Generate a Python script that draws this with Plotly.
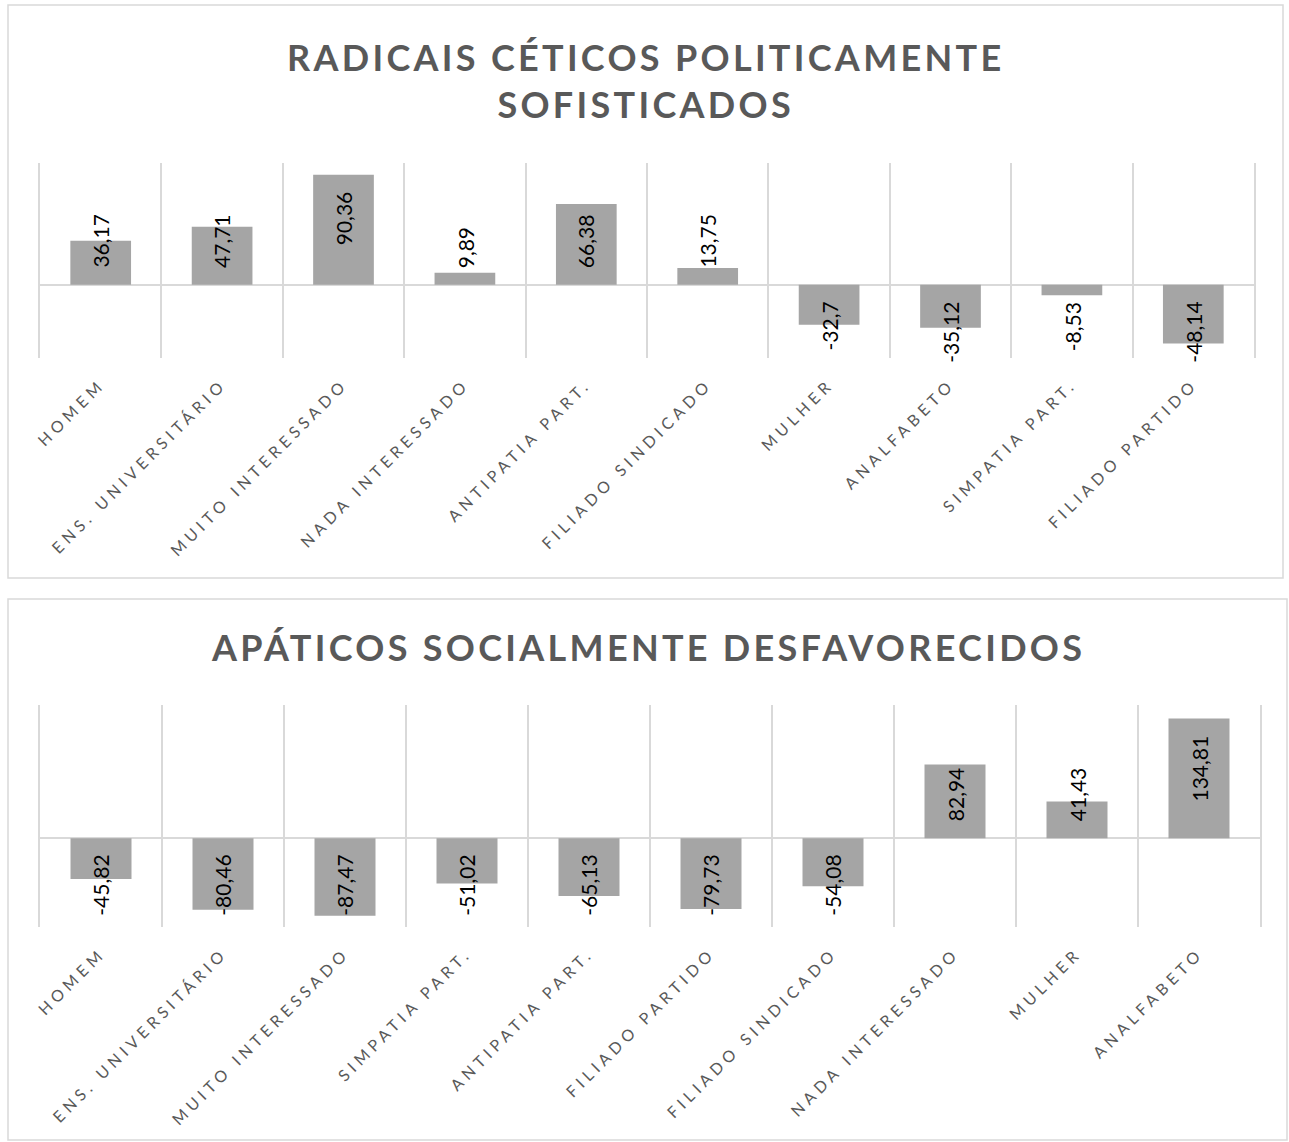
import plotly.graph_objects as go

# ---------------- data ----------------
top_title = "RADICAIS CÉTICOS POLITICAMENTE<br>SOFISTICADOS"
top_categories = ["HOMEM", "ENS. UNIVERSITÁRIO", "MUITO INTERESSADO", "NADA INTERESSADO",
                  "ANTIPATIA PART.", "FILIADO SINDICADO", "MULHER", "ANALFABETO",
                  "SIMPATIA PART.", "FILIADO PARTIDO"]
top_values = [36.17, 47.71, 90.36, 9.89, 66.38, 13.75, -32.7, -35.12, -8.53, -48.14]

bottom_title = "APÁTICOS SOCIALMENTE DESFAVORECIDOS"
bottom_categories = ["HOMEM", "ENS. UNIVERSITÁRIO", "MUITO INTERESSADO", "SIMPATIA PART.",
                     "ANTIPATIA PART.", "FILIADO PARTIDO", "FILIADO SINDICADO",
                     "NADA INTERESSADO", "MULHER", "ANALFABETO"]
bottom_values = [-45.82, -80.46, -87.47, -51.02, -65.13, -79.73, -54.08, 82.94, 41.43, 134.81]

top_range = [-60, 100]
bottom_range = [-100, 150]

# ---------------- style / layout ----------------
W, H = 1289, 1142
BAR = "#a5a5a5"
GRID = "#d9d9d9"
TXT = "#595959"
LABEL_SIZE = 21
PAD = 16
TITLE_SPACING = "3.3px"
TICK_SPACING = "4.6px"


def px(x):
    return x / W


def py(y):
    return 1 - y / H


panels = [
    dict(cats=top_categories, vals=top_values, rng=top_range, title=top_title,
         xdom=[px(40), px(1254)], ydom=[py(358), py(163)], title_y=py(80),
         box=(8, 5, 1283, 578), xa="x", ya="y"),
    dict(cats=bottom_categories, vals=bottom_values, rng=bottom_range, title=bottom_title,
         xdom=[px(40), px(1260)], ydom=[py(927), py(705)], title_y=py(647),
         box=(8, 599, 1287, 1140), xa="x2", ya="y2"),
]


def label_len(s, size):
    w = 0
    for ch in s:
        if ch.isdigit():
            w += 0.58
        elif ch == ",":
            w += 0.24
        elif ch == "-":
            w += 0.37
        else:
            w += 0.5
    return w * size


fig = go.Figure()
annotations = []
shapes = []

for p in panels:
    fig.add_trace(go.Bar(x=p["cats"], y=p["vals"], marker=dict(color=BAR, line=dict(width=0)),
                         xaxis=p["xa"], yaxis=p["ya"], showlegend=False, hoverinfo="skip"))
    plot_h = (p["ydom"][1] - p["ydom"][0]) * H
    ppu = plot_h / (p["rng"][1] - p["rng"][0])
    for c, v in zip(p["cats"], p["vals"]):
        txt = str(v).replace(".", ",")
        L = label_len(txt, LABEL_SIZE)
        fits = abs(v) * ppu >= L + 2 * PAD
        if v >= 0:
            if fits:
                y, anchor, shift = v, "top", -PAD
            else:
                y, anchor, shift = 0, "bottom", PAD
        else:
            if fits:
                y, anchor, shift = v, "bottom", PAD
            else:
                y, anchor, shift = 0, "top", -PAD
        annotations.append(dict(x=c, y=y, xref=p["xa"], yref=p["ya"], text=txt, showarrow=False,
                                textangle=-90, xanchor="center", yanchor=anchor, yshift=shift,
                                font=dict(family="Lato", size=LABEL_SIZE, color="#000000"),
                                borderpad=0))
    span_open = '<span style="letter-spacing:%s">' % TITLE_SPACING
    annotations.append(dict(x=(p["box"][0] + p["box"][2]) / 2 / W, y=p["title_y"], xref="paper",
                            yref="paper", showarrow=False, xanchor="center", yanchor="middle",
                            text=span_open + p["title"].replace("<br>", "</span><br>" + span_open) + "</span>",
                            font=dict(family="Lato", size=36, color=TXT, weight="bold")))
    x0, y0, x1, y1 = p["box"]
    shapes.append(dict(type="rect", xref="paper", yref="paper", x0=px(x0), x1=px(x1),
                       y0=py(y1), y1=py(y0), line=dict(color=GRID, width=1.5), layer="below"))

axis_common_x = dict(type="category", tickson="boundaries", showgrid=True, gridcolor=GRID,
                     gridwidth=1.5, showline=False, zeroline=False, ticks="", tickangle=-45,
                     ticklabelstandoff=13,
                     tickfont=dict(family="Lato", size=16, color=TXT), fixedrange=True)
axis_common_y = dict(showgrid=False, zeroline=True, zerolinecolor=GRID, zerolinewidth=2,
                     showticklabels=False, ticks="", showline=True, linecolor=GRID, linewidth=1.5,
                     mirror=True, fixedrange=True)

fig.update_layout(
    width=W, height=H, margin=dict(l=0, r=0, t=0, b=0),
    paper_bgcolor="white", plot_bgcolor="white",
    bargap=0.5,
    xaxis=dict(domain=panels[0]["xdom"], anchor="y", **axis_common_x),
    yaxis=dict(domain=panels[0]["ydom"], anchor="x", range=top_range, **axis_common_y),
    xaxis2=dict(domain=panels[1]["xdom"], anchor="y2", **axis_common_x),
    yaxis2=dict(domain=panels[1]["ydom"], anchor="x2", range=bottom_range, **axis_common_y),
    annotations=annotations, shapes=shapes,
)

post = """
document.body.style.margin='0';
document.body.style.overflow='hidden';
var gd = document.getElementById('{plot_id}');
function spaceTicks(){
  gd.querySelectorAll('.xtick text, .x2tick text').forEach(function(t){ t.style.letterSpacing='%s'; });
}
spaceTicks();
if (gd.on) { gd.on('plotly_afterplot', spaceTicks); }
""" % TICK_SPACING

fig.write_html("out.html", post_script=post, config={"displayModeBar": False})
